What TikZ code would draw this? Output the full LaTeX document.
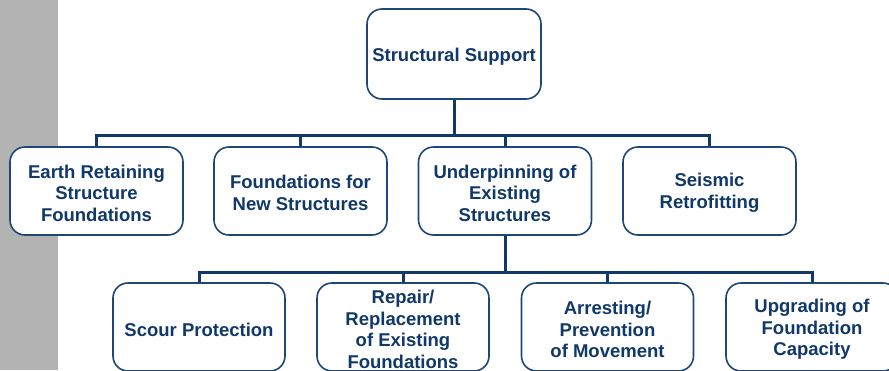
\documentclass[tikz,border=0pt]{standalone}
\usepackage{fontspec}
\setmainfont{Liberation Sans}
\definecolor{navy}{HTML}{103868}
\definecolor{boxline}{HTML}{1E4677}
\definecolor{sidebar}{HTML}{B3B3B3}
\tikzset{
  box/.style={draw=boxline, line width=1.6pt, rounded corners=15pt, fill=white,
    inner sep=0pt},
  lbl/.style={align=center, text=navy, inner sep=0pt,
    font=\bfseries\fontsize{18.5}{21.5}\selectfont},
  conn/.style={draw=navy, line width=3pt},
}
\begin{document}
\begin{tikzpicture}[x=1pt,y=-1pt]
\useasboundingbox (0,0) rectangle (889,370);
\clip (0,0) rectangle (889,370);
\fill[sidebar] (0,0) rectangle (58,370);
\node[box, minimum width=174pt, minimum height=90pt] (top) at (454,54) {};
\node[box, minimum width=173pt, minimum height=88pt] (a) at (96.5,191) {};
\node[box, minimum width=173pt, minimum height=88pt] (b) at (300.5,191) {};
\node[box, minimum width=173pt, minimum height=88pt] (c) at (505,191) {};
\node[box, minimum width=173pt, minimum height=88pt] (d) at (709.5,191) {};
\node[box, minimum width=172pt, minimum height=88pt] (e) at (199,327) {};
\node[box, minimum width=172pt, minimum height=88pt] (f) at (403,327) {};
\node[box, minimum width=172pt, minimum height=88pt] (g) at (607.5,327) {};
\node[box, minimum width=172pt, minimum height=88pt] (h) at (812,327) {};
\node[lbl] (topt) at ([yshift=-2.5pt]top.center) {Structural Support};
\node[lbl] (at) at ([yshift=-2pt]a.center) {Earth Retaining\\Structure\\Foundations};
\node[lbl] (bt) at ([yshift=-2pt]b.center) {Foundations for\\New Structures};
\node[lbl] (ct) at ([yshift=-2pt]c.center) {Underpinning of\\Existing\\Structures};
\node[lbl] (dt) at ([yshift=-2pt]d.center) {Seismic\\Retrofitting};
\node[lbl] (et) at ([yshift=-2.5pt]e.center) {Scour Protection};
\node[lbl] (ft) at ([yshift=-2.5pt]f.center) {Repair/\\Replacement\\of Existing\\Foundations};
\node[lbl] (gt) at ([yshift=-2.5pt]g.center) {Arresting/\\Prevention\\of Movement};
\node[lbl] (ht) at ([yshift=-2.5pt]h.center) {Upgrading of\\Foundation\\Capacity};
\coordinate (bus1) at (454,135);
\coordinate (bus2) at (505,272);
\draw[conn] (top.south) -- (bus1);
\draw[conn] (a.north) -- (a.north |- bus1) -- (d.north |- bus1) -- (d.north);
\draw[conn] (b.north) -- (b.north |- bus1);
\draw[conn] (c.north) -- (c.north |- bus1);
\draw[conn] (c.south) -- (bus2);
\draw[conn] (e.north) -- (e.north |- bus2) -- (h.north |- bus2) -- (h.north);
\draw[conn] (f.north) -- (f.north |- bus2);
\draw[conn] (g.north) -- (g.north |- bus2);
\end{tikzpicture}
\end{document}
